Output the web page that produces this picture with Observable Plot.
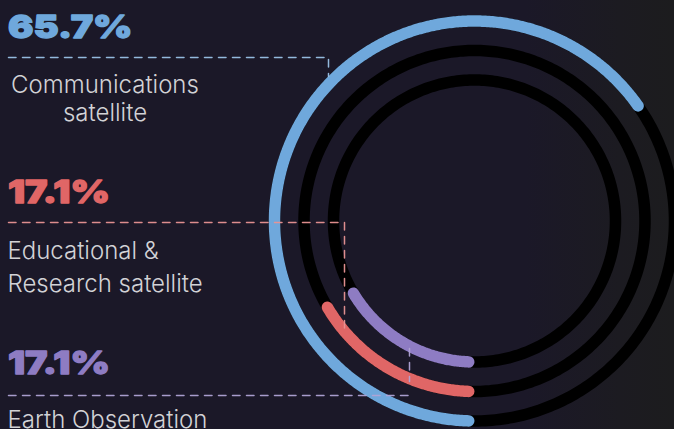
<!DOCTYPE html>
<html><head><meta charset="utf-8">
<script src="https://cdn.jsdelivr.net/npm/d3@7"></script>
<script src="https://cdn.jsdelivr.net/npm/@observablehq/plot@0.6"></script>
<style>
html,body{margin:0;padding:0;background:#1b1828;}
#chart{position:relative;width:674px;height:429px;overflow:hidden;
  background:linear-gradient(90deg,#1b1828 0%,#1b1828 78%,#1c1b21 92%,#1c1c1e 100%);}
#chart svg{display:block;}
</style></head><body><div id="chart"></div>
<script>
// ---- data ----
const categories = ["Communications satellite", "Educational & Research satellite", "Earth Observation"];
const shares = [65.7, 17.1, 17.1];
const colors = ["#6fa8dc", "#e06666", "#8e7cc3"];
const labelLines = [["Communications", "satellite"], ["Educational &", "Research satellite"], ["Earth Observation"]];

// ---- layout (pixels) ----
const W = 674, H = 429, CX = 474, CY = 220.5, R0 = 200, GAP = 29.5, SW = 11.5;
const pctLayout = [{x: 7.5, base: 37.3}, {x: 7.5, base: 202.3}, {x: 7.5, base: 373.3}];
const lblLayout = [
  {anchor: "middle", x: 104.5, bases: [92.5, 120]},
  {anchor: "start", x: 7, bases: [258, 291]},
  {anchor: "start", x: 7, bases: [427]}
];
const leaderLayout = [
  [[[8, 57], [328, 57], [328, 76]]],
  [[[8, 222], [344, 222], [344, 333]]],
  [[[8, 395], [410, 395]], [[409, 348], [409, 381]]]
];
const PCT_STRETCH = 1.18;

const radius = i => R0 - i * GAP;
const pt = (r, deg) => { const t = deg * Math.PI / 180; return [-r * Math.sin(t), -r * Math.cos(t)]; };
const dx = px => px - CX, dy = py => CY - py;

const tracks = [], arcs = [];
categories.forEach((c, i) => {
  const r = radius(i);
  d3.range(0, 360, 1).concat(360).forEach(a => { const [x, y] = pt(r, a); tracks.push({series: c, x, y}); });
  const cap = (SW / 2) / r * 180 / Math.PI;
  const a1 = shares[i] / 100 * 360 - cap;
  d3.range(cap, a1, 0.5).concat(a1).forEach(a => { const [x, y] = pt(r, a); arcs.push({series: c, x, y}); });
});

const leaders = [];
leaderLayout.forEach((segs, i) => segs.forEach((seg, j) => seg.forEach(([px, py]) =>
  leaders.push({series: categories[i], key: categories[i] + j, x: dx(px), y: dy(py)}))));
const light = colors.map(c => d3.interpolateRgb(c, "#ffffff")(0.3));

const pctData = categories.map((c, i) => ({series: c, text: shares[i].toFixed(1) + "%", x: dx(pctLayout[i].x), y: dy(pctLayout[i].base)}));
const lblData = [];
labelLines.forEach((lines, i) => lines.forEach((t, k) =>
  lblData.push({series: categories[i], text: t, anchor: lblLayout[i].anchor, x: dx(lblLayout[i].x), y: dy(lblLayout[i].bases[k])})));

const lblStyle = {fill: "#d2d2d6", fontSize: 24, fontWeight: 300, fontFamily: "Inter, Lato, sans-serif"};
const plot = Plot.plot({
  width: W, height: H, margin: 0,
  style: {background: "transparent", overflow: "hidden"},
  x: {domain: [-CX, W - CX], axis: null},
  y: {domain: [CY - H, CY], axis: null},
  color: {domain: categories, range: colors},
  marks: [
    Plot.line(tracks, {x: "x", y: "y", z: "series", stroke: "#000000", strokeWidth: SW}),
    Plot.line(arcs, {x: "x", y: "y", z: "series", stroke: "series", strokeWidth: SW, strokeLinecap: "round", strokeLinejoin: "round"}),
    Plot.line(leaders, {x: "x", y: "y", z: "key", stroke: d => light[categories.indexOf(d.series)], strokeWidth: 1.5, strokeDasharray: "7.5,6.5", strokeOpacity: 0.95}),
    Plot.text(lblData.filter(d => d.anchor === "middle"), {x: "x", y: "y", text: "text", textAnchor: "middle", lineAnchor: "bottom", ...lblStyle}),
    Plot.text(lblData.filter(d => d.anchor === "start"), {x: "x", y: "y", text: "text", textAnchor: "start", lineAnchor: "bottom", ...lblStyle}),
    Plot.text(pctData, {x: "x", y: "y", text: "text", textAnchor: "start", lineAnchor: "bottom", fill: "series", stroke: "series", strokeWidth: 1.3, strokeLinejoin: "round", fontSize: 32, fontWeight: 900, fontFamily: "Inter, sans-serif", className: "pct"})
  ]
});
document.getElementById("chart").appendChild(plot);
plot.querySelectorAll("g.pct text").forEach(t => {
  const w = t.getComputedTextLength();
  t.setAttribute("textLength", w * PCT_STRETCH);
  t.setAttribute("lengthAdjust", "spacingAndGlyphs");
});
</script></body></html>
